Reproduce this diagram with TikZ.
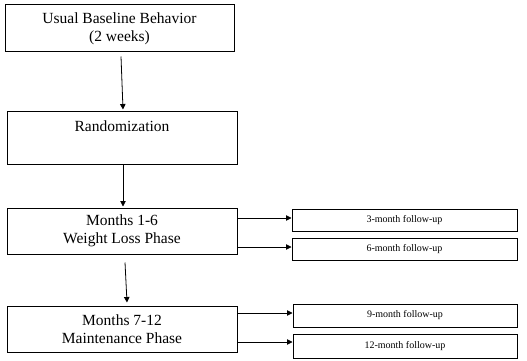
\documentclass[tikz,border=0pt]{standalone}
\usepackage{fontspec}
\setmainfont{Liberation Serif}
\usetikzlibrary{arrows.meta,calc}
\tikzset{
  bigbox/.style={draw, line width=1pt, minimum width=230pt, minimum height=46pt, inner sep=0pt, align=center, font=\fontsize{15.5}{18}\selectfont},
  smallbox/.style={draw, line width=1pt, minimum width=225pt, minimum height=22pt, inner sep=0pt, align=center, font=\fontsize{10}{11}\selectfont},
  arr/.style={line width=0.8pt, -{Triangle[length=5.5pt,width=5.5pt]}}
}
\begin{document}
\begin{tikzpicture}[x=1pt,y=-1pt]
\path[use as bounding box] (0,0) rectangle (527,361);
\node[bigbox, minimum width=229pt, minimum height=47pt] (b1) at (119.5,28.5) {Usual Baseline Behavior\\(2 weeks)};
\node[bigbox, minimum height=53pt] (b2) at (122,137.5) {Randomization\\\strut};
\node[bigbox] (b3) at (122,231) {Months 1-6\\Weight Loss Phase};
\node[bigbox] (b4) at (122,329) {Months 7-12\\Maintenance Phase};
\node[smallbox] (f1) at (404.5,220) {3-month follow-up};
\node[smallbox] (f2) at (404.5,249) {6-month follow-up};
\node[smallbox, minimum width=224pt, minimum height=23pt] (f3) at (405,315.5) {9-month follow-up};
\node[smallbox, minimum width=224pt, minimum height=24pt] (f4) at (405,346) {12-month follow-up};
\coordinate (s1) at ($(b1.south)+(1.5,4)$);
\coordinate (e1) at ($(b2.north)+(1,-1)$);
\draw[arr] (s1) -- (e1);
\draw[arr] ($(b2.south)+(1,0)$) -- ($(b3.north)+(1,-1)$);
\coordinate (s3) at ($(b3.south)+(3,8)$);
\coordinate (e3) at ($(b4.north)+(5,-3)$);
\draw[arr] (s3) -- (e3);
\draw[arr] ([yshift=2pt]f1.west -| b3.east) -- ([yshift=2pt]f1.west);
\draw[arr] ([yshift=2pt]f2.west -| b3.east) -- ([yshift=2pt]f2.west);
\draw[arr] ([yshift=2.5pt]f3.west -| b4.east) -- ([yshift=2.5pt]f3.west);
\draw[arr] ([yshift=4pt]f4.west -| b4.east) -- ([yshift=4pt]f4.west);
\end{tikzpicture}
\end{document}
